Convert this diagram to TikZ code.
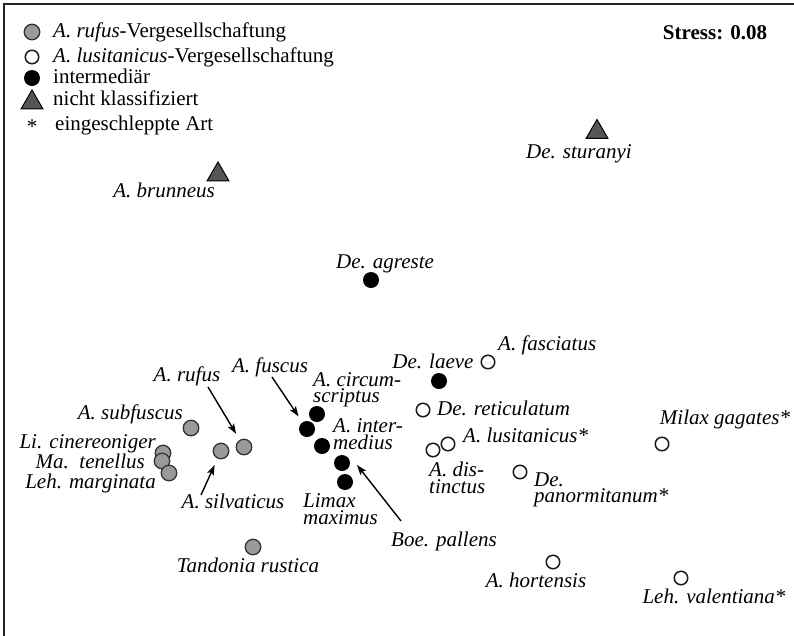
\documentclass[tikz,border=0pt]{standalone}
\usepackage{fontspec}
\setmainfont{Liberation Serif}
\usetikzlibrary{arrows.meta,shapes.geometric}
\definecolor{dotgray}{HTML}{9A9A9A}
\definecolor{trigray}{HTML}{555555}
\begin{document}
\begin{tikzpicture}[x=1pt,y=-1pt,
  leg/.style={inner sep=0pt, font=\fontsize{21}{16.5}\selectfont, text height=14pt, text depth=4pt},
  lbl/.style={inner sep=0pt, font=\fontsize{21}{16.5}\selectfont\itshape, text height=14pt, text depth=4pt},
  lbltwo/.style={inner sep=0pt, font=\fontsize{21}{16.5}\selectfont\itshape, align=left},
  grp/.style={circle, draw=black!80, line width=1.3pt, fill=dotgray, minimum size=15.5pt, inner sep=0pt},
  opn/.style={circle, draw=black!90, line width=1.5pt, minimum size=13.5pt, inner sep=0pt},
  blk/.style={circle, fill=black, minimum size=16pt, inner sep=0pt},
  tri/.style={regular polygon, regular polygon sides=3, draw=black, line width=1pt, fill=trigray, minimum size=25pt, inner sep=0pt},
  arr/.style={-{Stealth[length=10pt,width=7pt,inset=2pt]}, line width=1.4pt},
]
\useasboundingbox (0,0) rectangle (794,635);
\clip (0,0) rectangle (794,635);
% frame
\draw[line width=2.3pt, black!85] (4.3,640) -- (4.3,4) -- (800,4);

% legend
\node[grp] (lgA) at (32,32) {};
\node[leg, anchor=west] (ltA) at (53,32) {\textit{A. rufus}-Vergesellschaftung};
\node[opn] (lgB) at (32,57) {};
\node[leg, anchor=west] (ltB) at (53,57) {\textit{A. lusitanicus}-Vergesellschaftung};
\node[blk] (lgC) at (32,78) {};
\node[leg, anchor=west] (ltC) at (53,78) {intermediär};
\node[tri] (lgD) at (32,102.5) {};
\node[leg, anchor=west] (ltD) at (53,100) {nicht klassifiziert};
\node[inner sep=0pt, font=\fontsize{21}{16.5}\selectfont] (lgE) at (32,127) {*};
\node[leg, anchor=west] (ltE) at (55,125) {eingeschleppte Art};

\node[leg, font=\fontsize{21}{16.5}\selectfont\bfseries] (stress) at (715,34) {Stress: 0.08};

% markers
\node[tri] (brun) at (218,174.5) {};
\node[tri] (stur) at (597,132) {};
\node[blk] (agr) at (371,280) {};
\node[opn] (fasc) at (488,362) {};
\node[blk] (laeve) at (439,381) {};
\node[opn] (ret) at (423,410) {};
\node[opn] (dis) at (433,450) {};
\node[opn] (lus) at (448,444) {};
\node[opn] (pan) at (520,472) {};
\node[opn] (mil) at (662,444) {};
\node[opn] (hort) at (553,562) {};
\node[opn] (val) at (681,578) {};
\node[grp] (tand) at (253,547) {};
\node[grp] (sub) at (191,428) {};
\node[grp] (cin) at (163,453) {};
\node[grp] (ten) at (162,461) {};
\node[grp] (mar) at (169,473) {};
\node[grp] (silv) at (221,451) {};
\node[grp] (ruf) at (244,447) {};
\node[blk] (fus) at (307,429) {};
\node[blk] (cir) at (317,414) {};
\node[blk] (int) at (322,446) {};
\node[blk] (pal) at (342,463) {};
\node[blk] (lim) at (345,482) {};

% labels
\node[lbl] (brunL) at (164,192) {A. brunneus};
\node[lbl] (sturL) at (579,153) {De. sturanyi};
\node[lbl] (agrL) at (385,263) {De. agreste};
\node[lbl, anchor=west] (fascL) at (498,345) {A. fasciatus};
\node[lbl] (laeveL) at (433,363) {De. laeve};
\node[lbl, anchor=west] (retL) at (437,410) {De. reticulatum};
\node[lbl, anchor=west] (lusL) at (463,437) {A. lusitanicus*};
\node[lbltwo, anchor=west] (disL) at (429,478) {A. dis-\\tinctus};
\node[lbltwo, anchor=west] (panL) at (534,490) {De.\\panormitanum*};
\node[lbl] (milL) at (725,419) {Milax gagates*};
\node[lbl] (hortL) at (536,582) {A. hortensis};
\node[lbl] (valL) at (714,598) {Leh. valentiana*};
\node[lbl] (tandL) at (248,567) {Tandonia rustica};
\node[lbl, anchor=east] (subL) at (183,414) {A. subfuscus};
\node[lbl, anchor=east] (cinL) at (156,443) {Li. cinereoniger};
\node[lbl, anchor=east] (tenL) at (145,463) {Ma.\ \ tenellus};
\node[lbl, anchor=east] (marL) at (156,483) {Leh. marginata};
\node[lbl] (silvL) at (233,503) {A. silvaticus};
\node[lbl] (rufL) at (187,376) {A. rufus};
\node[lbl] (fusL) at (270,367) {A. fuscus};
\node[lbltwo, anchor=west] (cirL) at (313,390) {A. circum-\\scriptus};
\node[lbltwo, anchor=west] (intL) at (333,434) {A. inter-\\medius};
\node[lbl] (palL) at (444,541) {Boe. pallens};
\node[lbltwo, anchor=west] (limL) at (303,509) {Limax\\maximus};

% arrows
\coordinate (rufA) at (208,387);
\coordinate (fusA) at (272,377);
\coordinate (silvA) at (201,495);
\coordinate (palA) at (401,521);
\draw[arr, shorten >=7pt] (rufA) -- (ruf);
\draw[arr, shorten >=7pt] (fusA) -- (fus);
\draw[arr, shorten >=7pt] (silvA) -- (silv);
\draw[arr] (palA) -- ([xshift=15pt,yshift=-2pt]pal.center);
\end{tikzpicture}
\end{document}
